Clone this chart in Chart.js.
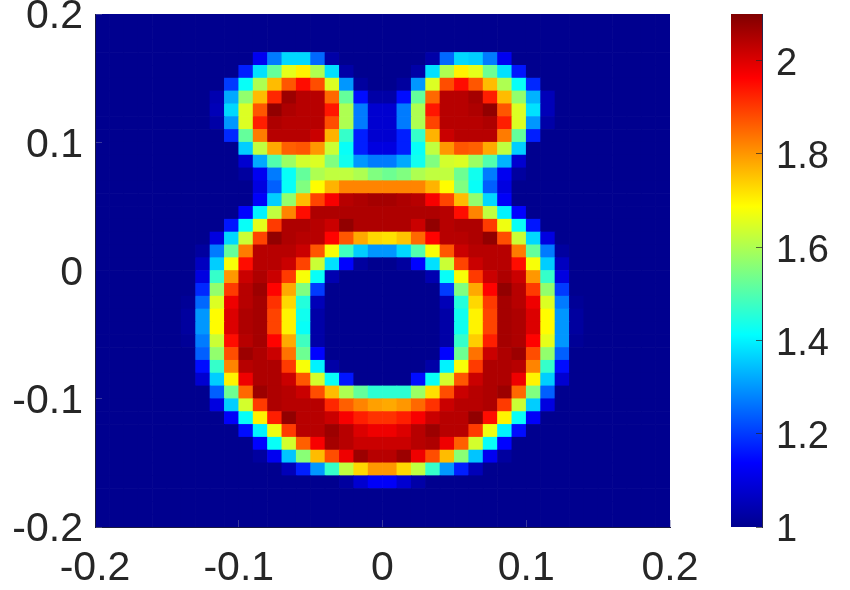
<!DOCTYPE html>
<html>
<head>
<meta charset="utf-8">
<title>Heat map</title>
<script src="https://cdn.jsdelivr.net/npm/chart.js@4"></script>
<style>
  html, body { margin: 0; padding: 0; background: #fff; }
  canvas { position: absolute; top: 0; }
</style>
</head>
<body>
<canvas id="heat" width="850" height="590" style="left:0"></canvas>
<canvas id="bar" width="150" height="590" style="left:700px"></canvas>
<script>
// cell centres along both axes
const xCells = [-0.195,-0.185,-0.175,-0.165,-0.155,-0.145,-0.135,-0.125,-0.115,-0.105,
  -0.095,-0.085,-0.075,-0.065,-0.055,-0.045,-0.035,-0.025,-0.015,-0.005,
  0.005,0.015,0.025,0.035,0.045,0.055,0.065,0.075,0.085,0.095,
  0.105,0.115,0.125,0.135,0.145,0.155,0.165,0.175,0.185,0.195];
const yCells = [0.195,0.185,0.175,0.165,0.155,0.145,0.135,0.125,0.115,0.105,
  0.095,0.085,0.075,0.065,0.055,0.045,0.035,0.025,0.015,0.005,
  -0.005,-0.015,-0.025,-0.035,-0.045,-0.055,-0.065,-0.075,-0.085,-0.095,
  -0.105,-0.115,-0.125,-0.135,-0.145,-0.155,-0.165,-0.175,-0.185,-0.195];
const cellHalf = 0.005;

// values, top row first
const cellValues = [
[1,1,1,1,1,1,1,1,1,1, 1,1,1,1,1,1,1,1,1,1, 1,1,1,1,1,1,1,1,1,1, 1,1,1,1,1,1,1,1,1,1],
[1,1,1,1,1,1,1,1,1,1, 1,1,1,1,1,1,1,1,1,1, 1,1,1,1,1,1,1,1,1,1, 1,1,1,1,1,1,1,1,1,1],
[1,1,1,1,1,1,1,1,1,1, 1,1,1,1,1,1,1,1,1,1, 1,1,1,1,1,1,1,1,1,1, 1,1,1,1,1,1,1,1,1,1],
[1,1,1,1,1,1,1,1,1,1, 1,1.12,1.27,1.37,1.37,1.25,1.03,1,1,1, 1,1,1,1.03,1.25,1.37,1.36,1.27,1.12,1, 1,1,1,1,1,1,1,1,1,1],
[1,1,1,1,1,1,1,1,1,1, 1.17,1.38,1.52,1.66,1.7,1.6,1.38,1.03,1,1, 1,1,1.03,1.38,1.6,1.7,1.66,1.53,1.38,1.16, 1,1,1,1,1,1,1,1,1,1],
[1,1,1,1,1,1,1,1,1,1.2, 1.42,1.6,1.76,1.87,1.95,1.88,1.65,1.3,1.02,1, 1,1.02,1.3,1.65,1.88,1.95,1.87,1.76,1.6,1.42, 1.18,1,1,1,1,1,1,1,1,1],
[1,1,1,1,1,1,1,1,1.04,1.32, 1.57,1.76,1.92,2.07,2.04,2.04,1.85,1.52,1.15,1.03, 1.03,1.15,1.52,1.85,2.04,2.04,2.06,1.93,1.76,1.57, 1.33,1.05,1,1,1,1,1,1,1,1],
[1,1,1,1,1,1,1,1,1.05,1.37, 1.65,1.87,2.08,2.05,2.04,2.04,1.94,1.6,1.27,1.08, 1.08,1.27,1.6,1.94,2.04,2.04,2.05,2.08,1.87,1.65, 1.38,1.05,1,1,1,1,1,1,1,1],
[1,1,1,1,1,1,1,1,1.03,1.3, 1.65,1.93,2.05,2.04,2.04,2.04,1.88,1.6,1.27,1.08, 1.08,1.27,1.6,1.89,2.04,2.04,2.04,2.05,1.93,1.65, 1.3,1.03,1,1,1,1,1,1,1,1],
[1,1,1,1,1,1,1,1,1,1.18, 1.52,1.83,2.04,2.04,2.04,2.02,1.77,1.47,1.17,1.08, 1.08,1.17,1.47,1.77,2.02,2.04,2.04,2.04,1.83,1.52, 1.17,1,1,1,1,1,1,1,1,1],
[1,1,1,1,1,1,1,1,1,1, 1.36,1.62,1.78,1.86,1.87,1.8,1.63,1.42,1.17,1.1, 1.1,1.17,1.42,1.62,1.8,1.87,1.86,1.78,1.62,1.36, 1,1,1,1,1,1,1,1,1,1],
[1,1,1,1,1,1,1,1,1,1, 1.08,1.32,1.5,1.58,1.64,1.65,1.55,1.43,1.3,1.27, 1.27,1.32,1.43,1.55,1.64,1.65,1.58,1.5,1.33,1.08, 1,1,1,1,1,1,1,1,1,1],
[1,1,1,1,1,1,1,1,1,1, 1.02,1.12,1.27,1.42,1.52,1.6,1.62,1.62,1.6,1.55, 1.53,1.55,1.6,1.62,1.62,1.53,1.43,1.27,1.12,1.02, 1,1,1,1,1,1,1,1,1,1],
[1,1,1,1,1,1,1,1,1,1, 1,1.1,1.24,1.42,1.55,1.69,1.77,1.82,1.82,1.82, 1.82,1.82,1.82,1.77,1.69,1.55,1.42,1.24,1.1,1, 1,1,1,1,1,1,1,1,1,1],
[1,1,1,1,1,1,1,1,1,1, 1,1.13,1.36,1.57,1.76,1.89,1.97,2.04,2.05,2.06, 2.06,2.05,2.04,1.97,1.89,1.76,1.57,1.37,1.13,1, 1,1,1,1,1,1,1,1,1,1],
[1,1,1,1,1,1,1,1,1,1, 1.14,1.4,1.62,1.82,1.95,2.05,2.05,2.05,2.05,2.05, 2.05,2.05,2.05,2.05,2.04,1.95,1.82,1.62,1.4,1.14, 1,1,1,1,1,1,1,1,1,1],
[1,1,1,1,1,1,1,1,1,1.16, 1.42,1.66,1.9,2.05,2.05,2.04,2.02,2.08,2.05,2.05, 2.05,2.05,2.02,2.08,2.04,2.05,2.05,1.9,1.67,1.42, 1.16,1,1,1,1,1,1,1,1,1],
[1,1,1,1,1,1,1,1,1.1,1.37, 1.63,1.89,2.08,2.05,2.04,2.04,1.96,1.87,1.78,1.73, 1.72,1.75,1.85,1.96,2.04,2.04,2.05,2.08,1.88,1.63, 1.37,1.1,1,1,1,1,1,1,1,1],
[1,1,1,1,1,1,1,1.02,1.27,1.52, 1.83,2.04,2.04,2.04,2.02,1.87,1.68,1.48,1.36,1.3, 1.3,1.37,1.5,1.68,1.87,2.02,2.04,2.04,2.04,1.83, 1.52,1.27,1.02,1,1,1,1,1,1,1],
[1,1,1,1,1,1,1,1.06,1.36,1.68, 1.95,2.04,2.04,2.02,1.89,1.63,1.38,1.14,1.02,1, 1,1.02,1.14,1.38,1.63,1.89,2.02,2.04,2.04,1.95, 1.68,1.36,1.06,1,1,1,1,1,1,1],
[1,1,1,1,1,1,1,1.1,1.47,1.8, 2.02,2.05,2.02,1.9,1.68,1.42,1.04,1,1,1, 1,1,1,1.04,1.42,1.68,1.9,2.02,2.05,2.02, 1.8,1.47,1.1,1,1,1,1,1,1,1],
[1,1,1,1,1,1,1,1.18,1.57,1.9, 2.04,2.07,1.96,1.78,1.55,1.2,1,1,1,1, 1,1,1,1,1.2,1.55,1.78,1.96,2.08,2.04, 1.9,1.57,1.2,1,1,1,1,1,1,1],
[1,1,1,1,1,1,1.01,1.25,1.65,1.98, 2.04,2.06,1.91,1.73,1.45,1.05,1,1,1,1, 1,1,1,1,1.05,1.45,1.73,1.9,2.06,2.04, 1.98,1.65,1.27,1.01,1,1,1,1,1,1],
[1,1,1,1,1,1,1.02,1.3,1.69,2, 2.05,2.06,1.89,1.7,1.43,1.03,1,1,1,1, 1,1,1,1,1.03,1.43,1.7,1.89,2.06,2.05, 2,1.69,1.3,1.02,1,1,1,1,1,1],
[1,1,1,1,1,1,1.02,1.3,1.69,2, 2.05,2.06,1.89,1.7,1.42,1.03,1,1,1,1, 1,1,1,1,1.03,1.43,1.7,1.89,2.06,2.05, 2,1.69,1.3,1.02,1,1,1,1,1,1],
[1,1,1,1,1,1,1.01,1.27,1.63,1.95, 2.04,2.06,1.96,1.78,1.48,1.03,1,1,1,1, 1,1,1,1,1.03,1.47,1.74,1.93,2.06,2.05, 1.96,1.66,1.3,1.01,1,1,1,1,1,1],
[1,1,1,1,1,1,1,1.24,1.57,1.88, 2.07,2.05,2.02,1.84,1.53,1.14,1,1,1,1, 1,1,1,1,1.14,1.53,1.84,2.02,2.05,2.07, 1.88,1.57,1.24,1,1,1,1,1,1,1],
[1,1,1,1,1,1,1,1.15,1.47,1.82, 2.04,2.05,2.05,1.9,1.68,1.4,1.03,1,1,1, 1,1,1,1.03,1.4,1.68,1.9,2.05,2.05,2.04, 1.82,1.47,1.15,1,1,1,1,1,1,1],
[1,1,1,1,1,1,1,1.08,1.36,1.7, 1.98,2.05,2.05,2.02,1.87,1.64,1.42,1.16,1,1, 1,1,1.15,1.42,1.64,1.87,2.02,2.05,2.05,1.98, 1.7,1.36,1.08,1,1,1,1,1,1,1],
[1,1,1,1,1,1,1,1,1.24,1.53, 1.85,2.07,2.05,2.04,2.02,1.88,1.76,1.6,1.52,1.46, 1.46,1.46,1.58,1.72,1.88,2.02,2.04,2.05,2.07,1.85, 1.55,1.24,1,1,1,1,1,1,1,1],
[1,1,1,1,1,1,1,1,1.1,1.36, 1.64,1.9,2.05,2.04,2.04,2.04,1.92,1.86,1.82,1.79, 1.78,1.8,1.85,1.91,2.02,2.04,2.04,2.05,1.9,1.63, 1.36,1.1,1,1,1,1,1,1,1,1],
[1,1,1,1,1,1,1,1,1,1.13, 1.42,1.7,1.93,2.08,2.04,2.04,2.02,1.97,1.93,1.91, 1.91,1.93,1.97,2.02,2.04,2.04,2.08,1.95,1.7,1.42, 1.13,1,1,1,1,1,1,1,1,1],
[1,1,1,1,1,1,1,1,1,1, 1.15,1.4,1.67,1.9,2.04,2.04,2.07,2.04,2,1.98, 1.98,2,2.04,2.07,2.04,2.04,1.9,1.67,1.4,1.15, 1,1,1,1,1,1,1,1,1,1],
[1,1,1,1,1,1,1,1,1,1, 1,1.14,1.42,1.64,1.86,1.97,2.06,2.04,2.02,2.02, 2.02,2.02,2.04,2.05,1.98,1.86,1.64,1.42,1.14,1, 1,1,1,1,1,1,1,1,1,1],
[1,1,1,1,1,1,1,1,1,1, 1,1.02,1.12,1.35,1.56,1.76,1.88,1.98,2.07,2.04, 2.04,2.07,1.98,1.88,1.76,1.56,1.35,1.12,1.02,1, 1,1,1,1,1,1,1,1,1,1],
[1,1,1,1,1,1,1,1,1,1, 1,1,1,1.05,1.17,1.3,1.47,1.62,1.73,1.8, 1.8,1.73,1.62,1.47,1.3,1.17,1.05,1,1,1, 1,1,1,1,1,1,1,1,1,1],
[1,1,1,1,1,1,1,1,1,1, 1,1,1,1,1,1,1,1.02,1.08,1.13, 1.13,1.08,1.03,1,1,1,1,1,1,1, 1,1,1,1,1,1,1,1,1,1],
[1,1,1,1,1,1,1,1,1,1, 1,1,1,1,1,1,1,1,1,1, 1,1,1,1,1,1,1,1,1,1, 1,1,1,1,1,1,1,1,1,1],
[1,1,1,1,1,1,1,1,1,1, 1,1,1,1,1,1,1,1,1,1, 1,1,1,1,1,1,1,1,1,1, 1,1,1,1,1,1,1,1,1,1],
[1,1,1,1,1,1,1,1,1,1, 1,1,1,1,1,1,1,1,1,1, 1,1,1,1,1,1,1,1,1,1, 1,1,1,1,1,1,1,1,1,1]
];

// tick labels
const xTicks = [-0.2, -0.1, 0, 0.1, 0.2];
const yTicks = [-0.2, -0.1, 0, 0.1, 0.2];
const barTicks = [1, 1.2, 1.4, 1.6, 1.8, 2];
const valueMin = 1;
const valueMax = 2.1;

// jet colour map, position 0-1 then r,g,b
const jetStops = [
  [0, 0, 0, 143],
  [0.125, 0, 0, 255],
  [0.375, 0, 255, 255],
  [0.625, 255, 255, 0],
  [0.875, 255, 0, 0],
  [1, 128, 0, 0]
];

function jetColor(v) {
  const t = Math.min(1, Math.max(0, (v - valueMin) / (valueMax - valueMin)));
  for (let i = 1; i < jetStops.length; i++) {
    const a = jetStops[i - 1], b = jetStops[i];
    if (t <= b[0]) {
      const f = (t - a[0]) / (b[0] - a[0]);
      const c = [1, 2, 3].map(n => Math.round(a[n] + (b[n] - a[n]) * f));
      return `rgb(${c[0]},${c[1]},${c[2]})`;
    }
  }
}

const textColor = '#262626';
const fontName = '"Liberation Sans", Arial, sans-serif';

// every cell is one floating bar
const cells = [];
const cellColors = [];
yCells.forEach((y, r) => {
  xCells.forEach((x, k) => {
    cells.push({ x: x, y: [y - cellHalf, y + cellHalf] });
    cellColors.push(jetColor(cellValues[r][k]));
  });
});

new Chart(document.getElementById('heat'), {
  type: 'bar',
  data: {
    datasets: [{
      data: cells,
      backgroundColor: cellColors,
      borderWidth: 0,
      borderSkipped: false,
      barPercentage: 1,
      categoryPercentage: 1
    }]
  },
  options: {
    responsive: false,
    animation: false,
    events: [],
    layout: { padding: { left: 0, top: 14, right: 180, bottom: 0 } },
    plugins: { legend: { display: false }, tooltip: { enabled: false } },
    scales: {
      x: {
        type: 'linear',
        offset: false,
        min: -0.2,
        max: 0.2,
        afterBuildTicks: s => { s.ticks = xTicks.map(v => ({ value: v })); },
        afterFit: s => { s.height = 63; s.paddingLeft = 0; s.paddingRight = 0; },
        grid: { offset: false, drawOnChartArea: false, tickLength: -7, color: 'rgba(110,110,170,0.5)', z: 1 },
        border: { color: '#1a1a40', z: 1 },
        ticks: {
          maxRotation: 0,
          autoSkip: false,
          padding: 24,
          color: textColor,
          font: { family: fontName, size: 41 },
          callback: v => String(v)
        }
      },
      y: {
        type: 'linear',
        min: -0.2,
        max: 0.2,
        afterBuildTicks: s => { s.ticks = yTicks.map(v => ({ value: v })); },
        afterFit: s => { s.width = 95; s.paddingTop = 0; s.paddingBottom = 0; },
        // the bars shrink by half a line at value 0, so that tick gets no line
        grid: {
          drawOnChartArea: false,
          tickLength: -7,
          color: 'rgba(110,110,170,0.5)',
          lineWidth: ctx => (ctx.tick && ctx.tick.value === 0 ? 0 : 1),
          z: 1
        },
        border: { color: '#1a1a40', z: 1 },
        ticks: {
          autoSkip: false,
          padding: 19,
          labelOffset: 3,
          color: textColor,
          font: { family: fontName, size: 41 },
          callback: v => String(v)
        }
      }
    }
  }
});

// colour bar: a single floating bar with the jet gradient
function barGradient(ctx) {
  const area = ctx.chart.chartArea;
  if (!area) return jetColor(valueMin);
  const g = ctx.chart.ctx.createLinearGradient(0, area.bottom, 0, area.top);
  jetStops.forEach(s => g.addColorStop(s[0], `rgb(${s[1]},${s[2]},${s[3]})`));
  return g;
}

new Chart(document.getElementById('bar'), {
  type: 'bar',
  data: {
    labels: [''],
    datasets: [{
      data: [[valueMin, valueMax]],
      backgroundColor: barGradient,
      borderWidth: 0,
      barPercentage: 1,
      categoryPercentage: 1
    }]
  },
  options: {
    responsive: false,
    animation: false,
    events: [],
    layout: { padding: { left: 31, top: 14, right: 0, bottom: 63 } },
    plugins: { legend: { display: false }, tooltip: { enabled: false } },
    scales: {
      x: { display: false },
      y: {
        type: 'linear',
        position: 'right',
        min: valueMin,
        max: valueMax,
        afterBuildTicks: s => { s.ticks = barTicks.map(v => ({ value: v })); },
        afterFit: s => { s.width = 88; s.paddingTop = 0; s.paddingBottom = 0; },
        grid: { drawOnChartArea: false, tickLength: -6, color: 'rgba(38,38,38,0.7)', z: 1 },
        border: { color: '#26264a', z: 1 },
        ticks: {
          autoSkip: false,
          padding: 20,
          labelOffset: 4,
          color: textColor,
          font: { family: fontName, size: 38 },
          callback: v => String(v)
        }
      }
    }
  }
});
</script>
</body>
</html>
